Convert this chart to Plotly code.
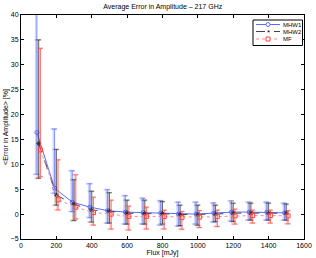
import plotly.graph_objects as go

flux = [100, 200, 300, 400, 500, 600, 700, 800, 900, 1000, 1100, 1200, 1300, 1400, 1500]

mhw1 = [16.4, 5.2, 2.4, 1.4, 0.7, 0.4, 0.3, 0.2, 0.0, 0.0, 0.2, 0.4, 0.4, 0.4, 0.25]
mhw1_hi = [40.5, 17.1, 8.7, 6.1, 4.9, 3.7, 3.2, 2.7, 2.4, 2.4, 2.25, 2.65, 2.4, 2.4, 2.2]
mhw1_lo = [8.0, 4.2, 0.5, -0.7, -1.8, -2.0, -2.0, -2.2, -2.4, -2.0, -1.6, -1.4, -1.2, -1.2, -1.2]

mhw2 = [14.2, 3.8, 2.0, 0.8, 0.6, 0.2, 0.1, 0.1, -0.1, -0.1, 0.0, 0.2, 0.2, 0.2, 0.2]
mhw2_hi = [35.0, 13.0, 6.9, 4.6, 4.3, 2.8, 2.8, 2.5, 1.8, 1.8, 1.8, 2.2, 2.2, 2.2, 2.0]
mhw2_lo = [7.2, 1.8, -1.3, -1.6, -1.8, -2.0, -2.0, -2.0, -2.3, -2.25, -1.5, -1.5, -1.2, -1.2, -1.2]

mf = [12.9, 2.85, 1.4, 0.3, 0.0, -0.5, -0.45, -0.5, -0.7, -0.6, -0.5, -0.35, -0.3, -0.3, -0.35]
mf_hi = [33.3, 10.9, 7.9, 3.4, 2.8, 1.6, 1.4, 0.8, 0.5, 0.7, 0.8, 1.0, 0.8, 0.8, 0.7]
mf_lo = [7.5, 0.85, -1.0, -2.2, -3.0, -3.2, -3.0, -3.0, -3.05, -2.7, -2.5, -2.0, -1.8, -1.8, -1.95]

x_ticks = [0, 200, 400, 600, 800, 1000, 1200, 1400, 1600]
y_ticks = [-5, 0, 5, 10, 15, 20, 25, 30, 35, 40]

series = [
    dict(name="MHW1", y=mhw1, hi=mhw1_hi, lo=mhw1_lo, off=-10, color="#5a6cff",
         light="rgba(175,185,255,0.6)", dash="solid", symbol="circle-open",
         lcolor="#5a6cff"),
    dict(name="MHW2", y=mhw2, hi=mhw2_hi, lo=mhw2_lo, off=0, color="#303030",
         light="rgba(175,175,175,0.6)", dash="dash", symbol="asterisk-open",
         lcolor="#444444"),
    dict(name="MF", y=mf, hi=mf_hi, lo=mf_lo, off=10, color="#ff4444",
         light="rgba(255,180,180,0.6)", dash="dot", symbol="square-open",
         lcolor="#ff8a8a"),
]

fig = go.Figure()

# thick light error bars
for s in series:
    xs = [f + s["off"] - 6 for f in flux]
    fig.add_trace(go.Scatter(
        x=xs, y=s["y"], mode="markers", showlegend=False, hoverinfo="skip",
        marker=dict(size=1, color="rgba(0,0,0,0)"),
        error_y=dict(type="data", symmetric=False,
                     array=[h - v for h, v in zip(s["hi"], s["y"])],
                     arrayminus=[v - l for l, v in zip(s["lo"], s["y"])],
                     color=s["light"], thickness=2, width=3),
    ))

# thin error bars with lines and markers
for s in series:
    xs = [f + s["off"] for f in flux]
    fig.add_trace(go.Scatter(
        x=xs, y=s["y"], mode="lines+markers", name=s["name"], showlegend=False,
        line=dict(color=s["lcolor"], width=1, dash=s["dash"]),
        marker=dict(symbol=s["symbol"], size=4, color=s["color"],
                    line=dict(color=s["color"], width=1)),
        error_y=dict(type="data", symmetric=False,
                     array=[h - v for h, v in zip(s["hi"], s["y"])],
                     arrayminus=[v - l for l, v in zip(s["lo"], s["y"])],
                     color=s["color"], thickness=0.7, width=2.5),
    ))

axis_common = dict(
    showgrid=False, zeroline=False, showline=True, linecolor="black", linewidth=1,
    mirror="ticks", ticks="inside", ticklen=3, tickcolor="black",
    tickfont=dict(size=7, color="black"), automargin=False,
)

# custom compact legend (paper coordinates)
W, H = 316, 258
L, R, T, B = 21, 12, 15, 19
pw, ph = W - L - R, H - T - B


def px(xp):
    return (xp - L) / pw


def py(yp):
    return (H - B - yp) / ph


shapes = [dict(type="rect", xref="paper", yref="paper",
               x0=px(253), x1=px(302.5), y0=py(45.5), y1=py(20),
               line=dict(color="black", width=1), fillcolor="white", layer="above")]
annotations = []
rows = [24.5, 31.5, 39]
for s, yy in zip(series, rows):
    shapes.append(dict(type="line", xref="paper", yref="paper",
                       x0=px(256), x1=px(280), y0=py(yy), y1=py(yy),
                       line=dict(color=s["lcolor"], width=1, dash=s["dash"]),
                       layer="above"))
    annotations.append(dict(text=s["name"], xref="paper", yref="paper",
                            x=px(282), y=py(yy), xanchor="left", yanchor="middle",
                            borderpad=0, showarrow=False,
                            font=dict(size=6, color="black")))
# legend markers
shapes.append(dict(type="circle", xref="paper", yref="paper",
                   x0=px(266), x1=px(270), y0=py(26.5), y1=py(22.5),
                   line=dict(color=series[0]["color"], width=1), fillcolor="white",
                   layer="above"))
annotations.append(dict(text="*", xref="paper", yref="paper",
                        x=px(268), y=py(32.5), xanchor="center", yanchor="middle",
                        showarrow=False, font=dict(size=8, color="black")))
shapes.append(dict(type="rect", xref="paper", yref="paper",
                   x0=px(266), x1=px(270), y0=py(41), y1=py(37),
                   line=dict(color=series[2]["color"], width=1), fillcolor="white",
                   layer="above"))

fig.update_layout(
    width=W, height=H,
    margin=dict(l=L, r=R, t=T, b=B),
    paper_bgcolor="white", plot_bgcolor="white",
    hovermode=False,
    font=dict(family="Liberation Sans, Arial, sans-serif", size=7, color="black"),
    title=dict(text="Average Error in Amplitude \u2013 217 GHz", x=0.515, xanchor="center",
               y=1 - 7 / H, yanchor="middle", font=dict(size=7), automargin=False),
    xaxis=dict(range=[0, 1600], tickvals=x_ticks,
               title=dict(text="Flux [mJy]", standoff=1, font=dict(size=7)),
               **axis_common),
    yaxis=dict(range=[-5, 40], tickvals=y_ticks,
               title=dict(text="&lt;Error in Amplitude&gt; [%]", standoff=1, font=dict(size=7)),
               **axis_common),
    shapes=shapes,
    annotations=annotations,
    showlegend=False,
)

fig.write_html(
    "out.html",
    config={"displayModeBar": False, "staticPlot": True},
    post_script="document.body.style.margin='0px';document.body.style.overflow='hidden';",
)
